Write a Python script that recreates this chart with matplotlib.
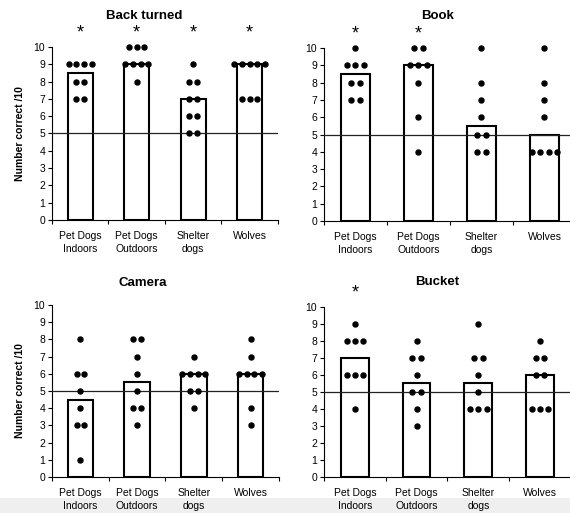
import numpy as np
import matplotlib
matplotlib.use("Agg")
import matplotlib.pyplot as plt
from matplotlib.patches import Rectangle

plt.rcParams['font.family'] = ['Liberation Sans', 'DejaVu Sans']

groups = ["Pet Dogs\nIndoors", "Pet Dogs\nOutdoors", "Shelter\ndogs", "Wolves"]

# individual scores (number correct out of 10) per group
back_turned = [
    [9, 9, 9, 9, 8, 8, 7, 7],
    [10, 10, 10, 9, 9, 9, 9, 8],
    [9, 8, 8, 7, 7, 6, 6, 5, 5],
    [9, 9, 9, 9, 9, 7, 7, 7],
]
book = [
    [10, 9, 9, 9, 8, 8, 7, 7],
    [10, 10, 9, 9, 9, 8, 6, 4],
    [10, 8, 7, 6, 5, 5, 4, 4],
    [10, 8, 7, 6, 4, 4, 4, 4],
]
camera = [
    [8, 6, 6, 5, 4, 3, 3, 1],
    [8, 8, 7, 6, 5, 4, 4, 3],
    [7, 6, 6, 6, 6, 5, 5, 4],
    [8, 7, 6, 6, 6, 6, 4, 3],
]
bucket = [
    [9, 8, 8, 8, 6, 6, 6, 4],
    [8, 7, 7, 6, 5, 5, 4, 3],
    [9, 7, 7, 6, 5, 4, 4, 4],
    [8, 7, 7, 6, 6, 4, 4, 4],
]

# groups marked as significantly above chance
sig_back_turned = [True, True, True, True]
sig_book = [True, True, False, False]
sig_camera = [False, False, False, False]
sig_bucket = [True, False, False, False]

chance = 5

fig = plt.figure(figsize=(5.70, 5.13), dpi=100)

# light gray band at the bottom of the screenshot
fig.patches.append(Rectangle((0, 0), 1, 0.03, transform=fig.transFigure,
                             facecolor="#efefef", edgecolor="none", zorder=-10))

panels = [
    ("Back turned", back_turned, sig_back_turned, [0.0912, 0.5712, 0.3965, 0.3372], 0.41, 20, True),
    ("Book", book, sig_book, [0.5684, 0.5692, 0.4421, 0.3372], 0.452, 21, False),
    ("Camera", camera, sig_camera, [0.0912, 0.0702, 0.3983, 0.3353], 0.40, 14, True),
    ("Bucket", bucket, sig_bucket, [0.5684, 0.0702, 0.4333, 0.3314], 0.457, 16, False),
]

for title, scores, sig, rect, tx, tpad, ylab in panels:
    ax = fig.add_axes(rect)
    x = np.arange(len(groups))
    medians = [np.median(s) for s in scores]
    ax.bar(x, medians, width=0.45, facecolor="white", edgecolor="black",
           linewidth=1.5, zorder=2)

    # dots: same-value scores spread side by side
    for i, s in enumerate(scores):
        vals, counts = np.unique(s, return_counts=True)
        for v, n in zip(vals, counts):
            offs = (np.arange(n) - (n - 1) / 2) * 0.135
            ax.plot(i + offs, [v] * n, "o", color="black", markersize=3.6,
                    zorder=4, clip_on=False)

    for i, flag in enumerate(sig):
        if flag:
            ax.text(i, 10.3, "*", ha="center", va="bottom", fontsize=13,
                    clip_on=False)

    ax.axhline(chance, color="#222222", linewidth=0.9, zorder=3)

    ax.set_xlim(-0.5, len(groups) - 0.5)
    ax.set_ylim(0, 10)
    ax.set_yticks(range(0, 11))
    ax.set_xticks(np.arange(len(groups) + 1) - 0.5)
    ax.set_xticklabels([])
    ax.set_xticks(x, minor=True)
    ax.set_xticklabels(groups, minor=True, fontsize=7.5, linespacing=1.4)
    ax.tick_params(axis="x", which="minor", length=0, pad=8)
    ax.tick_params(axis="x", which="major", length=3, width=0.8, direction="out")
    ax.tick_params(axis="y", length=3, width=0.8, labelsize=7.5, pad=2)

    for side in ("top", "right"):
        ax.spines[side].set_visible(False)
    for side in ("left", "bottom"):
        ax.spines[side].set_linewidth(0.8)

    ax.set_title(title, fontsize=9.5, fontweight="bold", x=tx, pad=tpad)
    if ylab:
        ax.set_ylabel("Number correct /10", fontsize=7.5, fontweight="bold",
                      labelpad=6)

fig.savefig("out.png", dpi=100)
